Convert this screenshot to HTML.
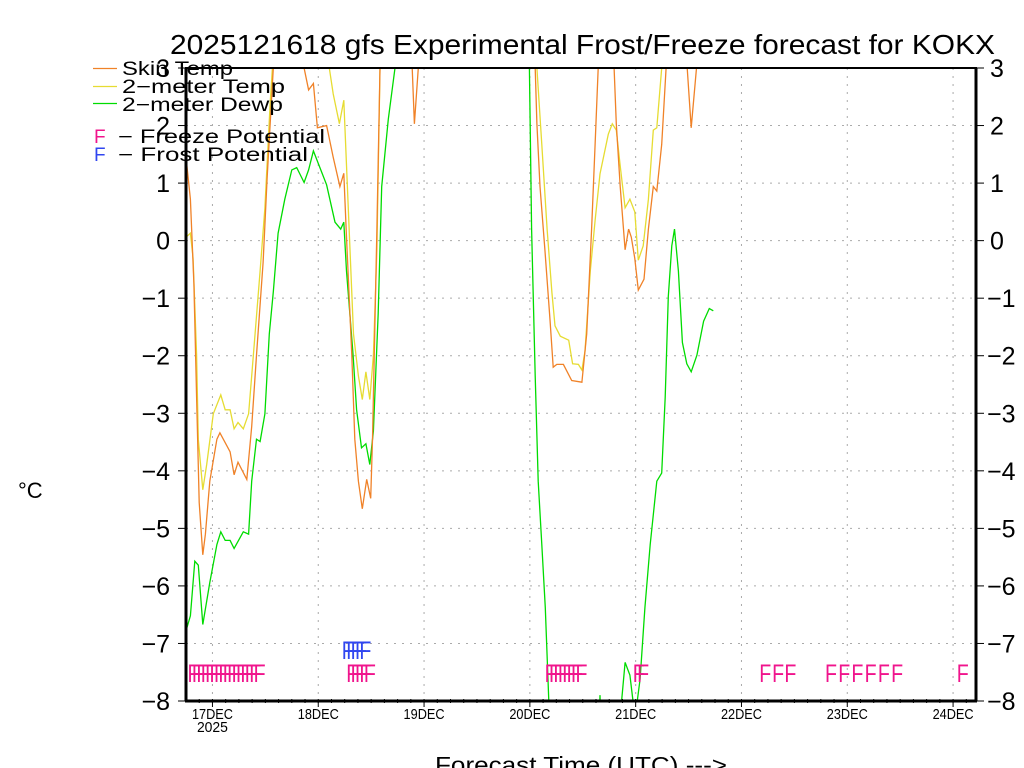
<!DOCTYPE html>
<html><head><meta charset="utf-8"><style>
html,body{margin:0;padding:0;background:#fff;width:1024px;height:768px;overflow:hidden;}
svg{display:block;font-family:"Liberation Sans","DejaVu Sans",sans-serif;}
</style></head><body>
<svg id="chart" width="1024" height="768" viewBox="0 0 1024 768" xmlns="http://www.w3.org/2000/svg">
<defs><clipPath id="plotclip"><rect x="186" y="68" width="790" height="633"/></clipPath></defs>
<rect x="0" y="0" width="1024" height="768" fill="#fff"/>
<text x="170" y="54" font-size="28" textLength="825" lengthAdjust="spacingAndGlyphs">2025121618 gfs Experimental Frost/Freeze forecast for KOKX</text>
<g id="grid"></g>
<g id="series" clip-path="url(#plotclip)"></g>
<g id="flags"></g>
<g id="axes"></g>
<g>
 <line x1="93" y1="68.5" x2="117" y2="68.5" stroke="#f08228" stroke-width="1.3"/>
 <text x="122" y="75" font-size="19" textLength="111" lengthAdjust="spacingAndGlyphs">Skin Temp</text>
 <line x1="93" y1="86.5" x2="117" y2="86.5" stroke="#e6dc32" stroke-width="1.3"/>
 <text x="122" y="93" font-size="19" textLength="163" lengthAdjust="spacingAndGlyphs">2−meter Temp</text>
 <line x1="93" y1="103.5" x2="117" y2="103.5" stroke="#00dc00" stroke-width="1.3"/>
 <text x="122" y="111" font-size="19" textLength="161" lengthAdjust="spacingAndGlyphs">2−meter Dewp</text>
 <text x="94" y="143" font-size="19" fill="#f0148c">F</text>
 <text x="118" y="143" font-size="19" textLength="207" lengthAdjust="spacingAndGlyphs">−  Freeze Potential</text>
 <text x="94" y="161" font-size="19" fill="#3046f0">F</text>
 <text x="118" y="161" font-size="19" textLength="190" lengthAdjust="spacingAndGlyphs">−  Frost Potential</text>
</g>
<text x="18" y="498" font-size="22">°C</text>
<text x="435" y="773" font-size="23" textLength="292" lengthAdjust="spacingAndGlyphs">Forecast Time (UTC) ---&gt;</text>
</svg>
<script>
// ---- data (hours since 2025-12-16 18Z, temperature °C) ----
const dayLabels = ["17DEC","18DEC","19DEC","20DEC","21DEC","22DEC","23DEC","24DEC"];
const yTicks = [-8,-7,-6,-5,-4,-3,-2,-1,0,1,2,3];
const skinHours = [0,1,1.8,2.4,3,3.8,4.4,5.4,7,7.7,10,10.9,11.8,13.8,14.9,16,17.5,18.4,19.8,20.5, 26.2,26.8,27.8,28.9,29.8,31.9,33.4,34.9,35.8,36.4,37.6,38.3,39.1,40,41,41.9,42.3,43.3,44,44.5, 50.8,51.3,51.8,52.7,53.2, 78.7,79.2,79.6,80.3,81.4,82.6,83.3,84.1,85.6,87.5,89.8,90.9,92,92.8,93.5,94, 96.6,97.1,97.6,98.5,99.6,100.4,101,101.8,102.6,103.9,104.9,106,106.8,107.9,108.9,109.4, 113.2,113.7,114.6,115.8,116.3];
const skinVals  = [1.45,0.72,-0.75,-2.72,-4.55,-5.46,-5.1,-4.18,-3.45,-3.34,-3.67,-4.07,-3.85,-4.15,-3.23,-1.99,-0.38,1.08,3,4, 4,3,2.62,2.73,1.96,2.0,1.45,0.94,1.17,0.06,-1.99,-3.45,-4.18,-4.66,-4.15,-4.48,-3.45,0.2,3,4, 4,3,2.03,3,4, 4,3,2.03,0.94,-0.16,-1.4,-2.2,-2.15,-2.15,-2.43,-2.46,-1.62,0.2,1.67,3,4, 4,3,2.03,0.94,-0.16,0.2,0.06,-0.31,-0.86,-0.67,0.2,0.94,0.86,1.67,3,4, 4,3,1.96,3,4];
const t2mHours = [0,1,1.6,2.4,2.8,3.8,4.7,6.2,7.9,8.9,10,10.9,11.8,13,14.2,14.9,16.8,17.9,19.1,19.6,20.1, 32,32.5,33.4,34.8,35.8,36.3,37.2,38,39.1,40,40.8,41.7,42.5,43.3,44,44.5, 79.1,79.6,80.7,81.9,83,83.7,84.9,86.8,87.7,89,89.8,90.5,91.7,92.8,93.9,95.8,96.7,97.6,98.5,99.6,100.7,101.8,102.6,103.7,104.9,106,106.8,107.9,108.4];
const t2mVals  = [0.06,0.13,-0.31,-1.99,-3.45,-4.33,-3.89,-3.01,-2.68,-2.94,-2.94,-3.27,-3.16,-3.27,-3.01,-2.35,-0.53,0.57,2.4,3,4, 4,3,2.55,2.03,2.44,1.52,-0.16,-1.62,-2.35,-2.76,-2.28,-2.76,-1.99,-0.16,3,4, 4,3,1.67,0.2,-0.9,-1.48,-1.66,-1.73,-2.14,-2.15,-2.25,-1.92,-0.53,0.35,1.16,1.85,2.03,1.92,1.3,0.57,0.72,0.5,-0.34,-0.09,0.72,1.92,1.96,3,4];
const dewHours = [0,1,2,2.8,3.8,5.4,7,7.9,8.9,10,10.9,13,14.2,14.9,16,16.8,17.9,18.9,19.8,20.9,22.4,24,25.1,26.8,27.8,28.9,30,31.9,33.8,35.1,35.8,36.4,37.9,38.7,39.8,40.8,41.7,42.5,43.6,44.4,45.9,47.4,48, 77.4,77.9,78.4,79.2,79.9,80.7,81.5,82.3,83,90,93.5,93.9,94.3,98.3,98.8,99.6,100.7,101.4,102.2,103,104.1,105.3,106.8,107.9,108.7,109.4,110.2,110.8,111.7,112.6,113.6,114.6,115.9,117.4,118.7,119.6];
const dewVals  = [-6.78,-6.52,-5.57,-5.64,-6.67,-5.94,-5.28,-5.06,-5.21,-5.21,-5.35,-5.06,-5.1,-4.18,-3.45,-3.49,-3.01,-1.62,-0.89,0.13,0.72,1.23,1.27,1.01,1.23,1.56,1.34,0.97,0.32,0.2,0.32,-0.53,-1.99,-2.94,-3.6,-3.53,-3.89,-3.31,-1.26,0.94,2.11,3,4, 4,3,0.2,-2.35,-4.18,-5.28,-6.38,-8,-9,-10,-9,-7.9,-9,-9,-8,-7.33,-7.55,-8,-8.1,-7.62,-6.38,-5.28,-4.18,-4.04,-2.72,-0.97,-0.09,0.2,-0.53,-1.77,-2.14,-2.28,-1.99,-1.4,-1.18,-1.22];
const freezeHours = [0,1,2,3,4,5,6,7,8,9,10,11,12,13,14,15, 36,37,38,39,40, 81,82,83,84,85,86,87,88, 101,102, 129.7,132.6,135.4, 144.6,147.6,150.6,153.6,156.6,159.6, 174.5];
const frostHours = [35,36,37,38,39];

// ---- scales ----
const X0=186, X1=976, Y0=68, Y1=701, HSTART=0, HEND=179.2;
function xS(h){ return X0 + (h-HSTART)*(X1-X0)/(HEND-HSTART); }
function yS(v){ return Y0 + (3-v)*(Y1-Y0)/11; }
const NS="http://www.w3.org/2000/svg";
function mk(tag, attrs, parent){ const e=document.createElementNS(NS,tag); for(const k in attrs) e.setAttribute(k,attrs[k]); parent.appendChild(e); return e; }

const grid=document.getElementById('grid'), axes=document.getElementById('axes'), ser=document.getElementById('series'), flags=document.getElementById('flags');

yTicks.forEach(v=>{
  if(v>-8 && v<3){
    const l=mk('line',{x1:X0,x2:X1,y1:yS(v),y2:yS(v),stroke:'#aaa','stroke-width':1,'stroke-dasharray':'2,6'},grid);
    
    
  }
});
dayLabels.forEach((d,i)=>{
  const h=6+24*i, x=xS(h);
  const l=mk('line',{x1:x,x2:x,y1:Y0,y2:Y1,stroke:'#aaa','stroke-width':1,'stroke-dasharray':'2,6'},grid);
  
  
  const t=mk('line',{x1:x,x2:x,y1:Y1,y2:Y1+6,stroke:'#000','stroke-width':1},axes);
  
  
  const tx=mk('text',{x:x,y:719,'font-size':15,'text-anchor':'middle',textLength:41,lengthAdjust:'spacingAndGlyphs'},axes);
  tx.textContent=d;
  
  
});
const yr=mk('text',{x:xS(6),y:732,'font-size':15,'text-anchor':'middle',textLength:31,lengthAdjust:'spacingAndGlyphs'},axes);
yr.textContent='2025';



for(let h=3;h<HEND;h+=3){
  const t=mk('line',{x1:xS(h),x2:xS(h),y1:Y1-2,y2:Y1+2,stroke:'#000','stroke-width':1},axes);
  
  
}

yTicks.forEach(v=>{
  const y=yS(v);
  const lab=(v<0?'−':'')+Math.abs(v);
  const tl=mk('line',{x1:X0-8,x2:X0,y1:y,y2:y,stroke:'#000','stroke-width':1},axes);
  
  
  const tr=mk('line',{x1:X1,x2:X1+8,y1:y,y2:y,stroke:'#000','stroke-width':1},axes);
  
  
  const a=mk('text',{x:170,y:y+9,'font-size':25,'text-anchor':'end'},axes);
  a.textContent=lab;
  
  
  const b=mk('text',{x:v<0?987:990,y:y+9,'font-size':25,'text-anchor':'start'},axes);
  b.textContent=lab;
  
  
});

const fr=mk('rect',{x:X0,y:Y0,width:X1-X0,height:Y1-Y0,fill:'none',stroke:'#000','stroke-width':2},axes);


const bx=mk('line',{x1:X0-1,x2:X1+1,y1:Y1,y2:Y1,stroke:'#000','stroke-width':3},axes);


const lx=mk('line',{x1:X0,x2:X0,y1:Y0,y2:Y1,stroke:'#000','stroke-width':3},axes);


const rx=mk('line',{x1:X1,x2:X1,y1:Y0,y2:Y1,stroke:'#000','stroke-width':3},axes);



function drawSeries(hours, vals, color, name){
  const pts=hours.map((h,i)=>xS(h).toFixed(1)+','+yS(vals[i]).toFixed(1)).join(' ');
  const p=mk('polyline',{points:pts,fill:'none',stroke:color,'stroke-width':1.3,'stroke-linejoin':'miter'},ser);
  
  
}
drawSeries(dewHours, dewVals, '#00dc00', 'dewpoint-line');
drawSeries(t2mHours, t2mVals, '#e6dc32', 'temp-2m-line');
drawSeries(skinHours, skinVals, '#f08228', 'skin-temp-line');

function drawF(h, yTop, color, name){
  const x=xS(h)+3;
  const t=mk('text',{x:x-1.5,y:yTop+18,'font-size':25,fill:color,textLength:12,lengthAdjust:'spacingAndGlyphs'},flags);
  t.textContent='F';
  
  
}
freezeHours.forEach(h=>drawF(h,664,'#f0148c','freeze-flag'));
frostHours.forEach(h=>drawF(h,641,'#3046f0','frost-flag'));
</script>
</body></html>
